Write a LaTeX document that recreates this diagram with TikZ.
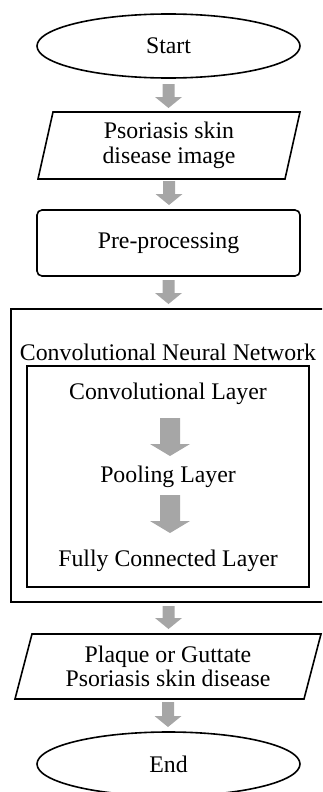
\documentclass[tikz,border=0pt]{standalone}
\usepackage{fontspec}
\setmainfont{Liberation Serif}
\usetikzlibrary{shapes.geometric,calc}
\definecolor{arrowgray}{RGB}{166,166,166}
% #1 from anchor, #2 to anchor, #3 gap after start, #4 gap before end,
% #5 half shaft width, #6 half head width, #7 head length
\newcommand\garrow[7]{%
  \fill[arrowgray]
    ($(#1)+(-#5,#3)$) -- ($(#1|-#2)+(-#5,-#4-#7)$) -- ($(#1|-#2)+(-#6,-#4-#7)$)
    -- ($(#1|-#2)+(0,-#4)$) -- ($(#1|-#2)+(#6,-#4-#7)$) -- ($(#1|-#2)+(#5,-#4-#7)$)
    -- ($(#1)+(#5,#3)$) -- cycle;}
\begin{document}
\begin{tikzpicture}[x=1pt,y=-1pt,line width=1.6pt,
  every node/.style={font=\fontsize{23.8}{24.5}\selectfont},
  term/.style={ellipse,draw,minimum width=263pt,minimum height=64pt,inner sep=0pt,outer sep=0pt},
  procbox/.style={rectangle,draw,rounded corners=5pt,inner sep=0pt,outer sep=0pt},
  iotext/.style={rectangle,align=center,inner sep=0pt,outer sep=0pt},
  frame/.style={rectangle,draw,inner sep=0pt,outer sep=0pt},
  plain/.style={inner sep=0pt,outer sep=0pt,anchor=base}]
\useasboundingbox (0,0) rectangle (322,792);
\clip (0,0) rectangle (322,792);

\node[term] (start) at (168.5,46) {Start};

\node[iotext,minimum width=247pt,minimum height=67pt] (in1) at (169,145.5) {Psoriasis skin\\disease image};
\draw ($(in1.south west)+(-7.5,0)$) -- ($(in1.north west)+(7.5,0)$) -- ($(in1.north east)+(7.5,0)$) -- ($(in1.south east)+(-7.5,0)$) -- cycle;

\node[procbox,minimum width=263pt,minimum height=66pt] (pre) at (168.5,243) {Pre-processing};

\node[frame,minimum width=315pt,minimum height=293pt] (cnn) at (168.5,455.5) {};
\node[plain] (cnnlabel) at (168,360) {Convolutional Neural Network};
\node[frame,line width=1.3pt,minimum width=282pt,minimum height=221pt] (inner) at (168,476.5) {};
\node[plain] (conv) at (168,399) {Convolutional Layer};
\node[plain] (pool) at (168,482.7) {Pooling Layer};
\node[plain] (fc) at (168,566.7) {Fully Connected Layer};

\node[iotext,minimum width=289pt,minimum height=65pt] (out) at (168,666.5) {Plaque or Guttate\\Psoriasis skin disease};
\draw ($(out.south west)+(-8.5,0)$) -- ($(out.north west)+(8.5,0)$) -- ($(out.north east)+(8.5,0)$) -- ($(out.south east)+(-8.5,0)$) -- cycle;

\node[term] (end) at (168.5,764) {End};

\coordinate (convb) at ($(conv.base)+(2,0)$);
\coordinate (poolb) at ($(pool.base)+(2,0)$);

\garrow{start.south}{in1.north}{6}{4}{6}{13.5}{11}
\garrow{in1.south}{pre.north}{2}{5}{6}{13.5}{11}
\garrow{pre.south}{cnn.north}{4}{5}{6}{13.5}{11}
\garrow{cnn.south}{out.north}{4}{5}{6}{13.5}{11}
\garrow{out.south}{end.north}{3}{5}{6}{13.5}{11}
\garrow{convb}{pool.base}{19}{26.7}{10}{20}{12}
\garrow{poolb}{fc.base}{12.3}{33.7}{10}{20}{12}
\end{tikzpicture}
\end{document}
